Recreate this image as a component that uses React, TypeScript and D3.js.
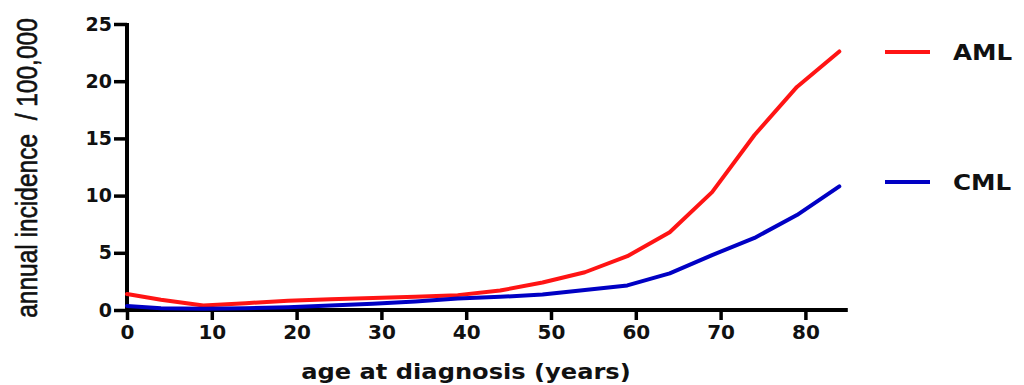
import React, { useEffect, useRef } from "react";
import * as d3 from "d3";

const ages = [0, 4, 9, 14, 19, 24, 29, 34, 39, 44, 49, 54, 59, 64, 69, 74, 79, 84];
const amlValues = [1.4, 0.9, 0.4, 0.6, 0.8, 0.95, 1.05, 1.15, 1.3, 1.7, 2.4, 3.3, 4.7, 6.8, 10.3, 15.3, 19.5, 22.6];
const cmlValues = [0.35, 0.15, 0.1, 0.15, 0.25, 0.4, 0.55, 0.75, 1.0, 1.15, 1.35, 1.75, 2.15, 3.2, 4.8, 6.3, 8.3, 10.8];
const xTicks = [0, 10, 20, 30, 40, 50, 60, 70, 80];
const yTicks = [0, 5, 10, 15, 20, 25];

const series = [
  { name: "AML", values: amlValues, color: "#ff1414" },
  { name: "CML", values: cmlValues, color: "#0000c4" },
];

const App = () => {
  const ref = useRef(null);

  useEffect(() => {
    const svg = d3.select(ref.current);
    svg.selectAll("*").remove();
    const width = 1024;
    const height = 385;
    const margin = { top: 24, left: 127, bottom: 75 };

    const x = d3.scaleLinear().domain([0, 85]).range([margin.left, margin.left + 85 * 8.48]);
    const y = d3.scaleLinear().domain([0, 25]).range([height - margin.bottom, margin.top]);

    const bold = "'DejaVu Sans', Verdana, sans-serif";

    // y axis
    const gy = svg.append("g").attr("transform", `translate(${x(0)},0)`);
    gy.call(d3.axisLeft(y).tickValues(yTicks).tickSize(13).tickPadding(2).tickSizeOuter(0));
    gy.select(".domain").attr("stroke", "#000").attr("stroke-width", 4)
      .attr("d", `M0,${y(0) + 2}V${y(25) - 1}`);
    gy.selectAll(".tick line").attr("stroke", "#000").attr("stroke-width", 3.5);
    gy.selectAll(".tick text")
      .style("font-family", bold)
      .style("font-weight", "bold")
      .style("font-size", "19px")
      .attr("fill", "#111");

    // x axis
    const gx = svg.append("g").attr("transform", `translate(0,${y(0)})`);
    gx.call(d3.axisBottom(x).tickValues(xTicks).tickSize(10).tickPadding(5).tickSizeOuter(0));
    gx.select(".domain").attr("stroke", "#000").attr("stroke-width", 4)
      .attr("d", `M${x(0) - 2},0H${x(85)}`);
    gx.selectAll(".tick line").attr("stroke", "#000").attr("stroke-width", 3.5);
    gx.selectAll(".tick text")
      .style("font-family", bold)
      .style("font-weight", "bold")
      .style("font-size", "20px")
      .attr("fill", "#111");

    const line = d3
      .line<number>()
      .x((d, i) => x(ages[i]))
      .y((d) => y(d))
      .curve(d3.curveLinear);

    series.forEach((s) => {
      svg
        .append("path")
        .datum(s.values)
        .attr("fill", "none")
        .attr("stroke", s.color)
        .attr("stroke-width", 4)
        .attr("stroke-linejoin", "round")
        .attr("stroke-linecap", "round")
        .attr("d", line);
    });

    // legend
    const legendY = [52, 182];
    series.forEach((s, i) => {
      svg
        .append("line")
        .attr("x1", 885)
        .attr("x2", 930)
        .attr("y1", legendY[i])
        .attr("y2", legendY[i])
        .attr("stroke", s.color)
        .attr("stroke-width", 4);
      svg
        .append("text")
        .attr("transform", `translate(953,${legendY[i]}) scale(1.12,1)`)
        .attr("dy", "0.36em")
        .text(s.name)
        .style("font-family", bold)
        .style("font-weight", "bold")
        .style("font-size", "22px")
        .attr("fill", "#111");
    });

    // axis titles
    svg
      .append("text")
      .attr("transform", `translate(37,168) rotate(-90) scale(1,1.22)`)
      .attr("text-anchor", "middle")
      .text("annual incidence  / 100,000")
      .style("font-family", "'Liberation Sans', Arial, sans-serif")
      .style("font-size", "24.5px")
      .style("white-space", "pre")
      .attr("fill", "#111")
      .attr("stroke", "#111")
      .attr("stroke-width", 0.5);

    svg
      .append("text")
      .attr("transform", "translate(466,379) scale(1.15,1)")
      .attr("text-anchor", "middle")
      .text("age at diagnosis (years)")
      .style("font-family", bold)
      .style("font-weight", "bold")
      .style("font-size", "21px")
      .attr("fill", "#111");

    svg.attr("width", width).attr("height", height);
  }, []);

  return (
    <svg
      ref={ref}
      style={{ position: "absolute", left: 0, top: 0, display: "block", background: "#fff" }}
    />
  );
};

export default App;
